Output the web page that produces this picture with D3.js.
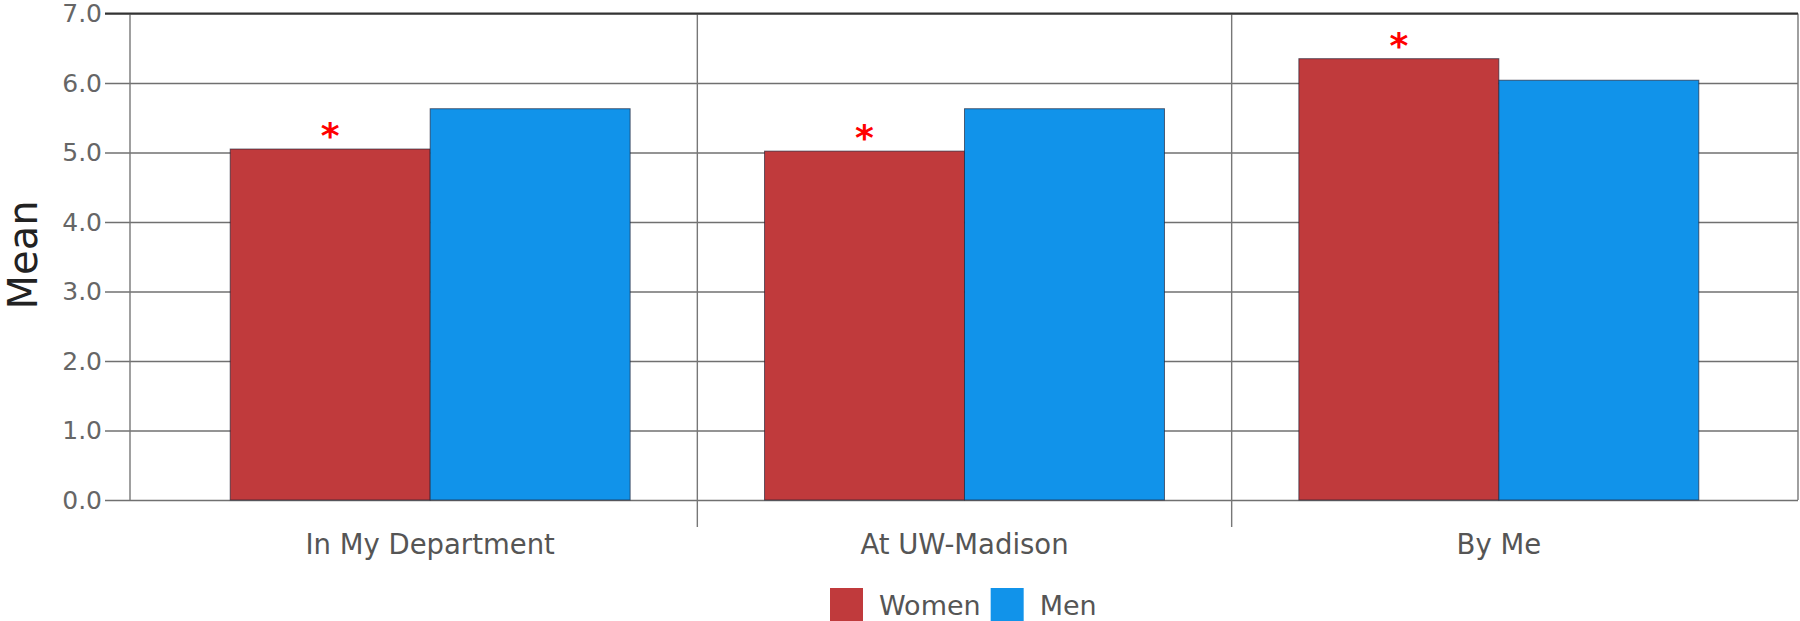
<!DOCTYPE html>
<html>
<head>
<meta charset="utf-8">
<script src="https://cdn.jsdelivr.net/npm/d3@7"></script>
<style>
  html, body { margin: 0; padding: 0; background: #fff; }
  svg { display: block; }
</style>
</head>
<body>
<svg id="chart" width="1800" height="621"></svg>
<script>
// ---- data ----
const categories = ["In My Department", "At UW-Madison", "By Me"];
const seriesNames = ["Women", "Men"];
const womenValues = [5.05, 5.02, 6.35];
const menValues = [5.63, 5.63, 6.04];
const womenSignificant = [true, true, true];
const yTickValues = [0, 1, 2, 3, 4, 5, 6, 7];
const yAxisTitle = "Mean";

// ---- layout ----
const plot = { left: 130, right: 1798, top: 13.5, bottom: 500 };
const bandRange = [163, 1766];
const colors = { Women: "#c03a3c", Men: "#1193ea" };
const FONT = "'DejaVu Sans', Verdana, sans-serif";

const svg = d3.select("#chart");

const y = d3.scaleLinear().domain([0, 7]).range([plot.bottom, plot.top]);
const x0 = d3.scaleBand().domain(categories).range(bandRange).padding(0);
const x1 = d3.scaleBand().domain(seriesNames).range([0, x0.bandwidth()])
  .paddingInner(0).paddingOuter(0.336);

const rows = categories.map((c, i) => ({
  category: c,
  values: [
    { series: "Women", value: womenValues[i], sig: womenSignificant[i] },
    { series: "Men", value: menValues[i], sig: false }
  ]
}));

// gridlines + left ticks + labels (one axis anchored on the right edge)
const gridAxis = d3.axisLeft(y)
  .tickValues(yTickValues)
  .tickFormat(d3.format(".1f"))
  .tickSize(plot.right - 105)
  .tickPadding(3);

const gy = svg.append("g")
  .attr("transform", `translate(${plot.right},0)`)
  .call(gridAxis);
gy.select(".domain").remove();
gy.selectAll(".tick line").attr("stroke", "#707070").attr("stroke-width", 1.4);
gy.selectAll(".tick text")
  .attr("fill", "#666")
  .style("font-family", FONT)
  .style("font-size", "25px");

// category separators
svg.append("g").selectAll("line")
  .data(categories.slice(1))
  .join("line")
  .attr("x1", d => x0(d)).attr("x2", d => x0(d))
  .attr("y1", plot.top).attr("y2", 527)
  .attr("stroke", "#777").attr("stroke-width", 1.4);

// frame
svg.append("line").attr("x1", plot.left).attr("x2", plot.left)
  .attr("y1", plot.top).attr("y2", plot.bottom)
  .attr("stroke", "#777").attr("stroke-width", 1.4);
svg.append("line").attr("x1", plot.right).attr("x2", plot.right)
  .attr("y1", plot.top).attr("y2", plot.bottom)
  .attr("stroke", "#777").attr("stroke-width", 1.4);
svg.append("line").attr("x1", 105).attr("x2", plot.right)
  .attr("y1", plot.top).attr("y2", plot.top)
  .attr("stroke", "#333").attr("stroke-width", 2);

// bars
const groups = svg.append("g").selectAll("g")
  .data(rows)
  .join("g")
  .attr("transform", d => `translate(${x0(d.category)},0)`);

groups.selectAll("rect")
  .data(d => d.values)
  .join("rect")
  .attr("x", d => x1(d.series))
  .attr("y", d => y(d.value))
  .attr("width", x1.bandwidth())
  .attr("height", d => y(0) - y(d.value))
  .attr("fill", d => colors[d.series])
  .attr("stroke", "rgba(30,30,50,0.65)")
  .attr("stroke-width", 1);

// significance asterisks
groups.selectAll("text.sig")
  .data(d => d.values.filter(v => v.sig))
  .join("text")
  .attr("class", "sig")
  .attr("x", d => x1(d.series) + x1.bandwidth() / 2)
  .attr("y", d => y(d.value) - 1)
  .attr("text-anchor", "middle")
  .attr("fill", "#ff0000")
  .style("font-family", FONT)
  .style("font-weight", "bold")
  .style("font-size", "36px")
  .text("*");

// x axis labels
const gx = svg.append("g")
  .attr("transform", `translate(0,${plot.bottom})`)
  .call(d3.axisBottom(x0).tickSize(0).tickPadding(34));
gx.select(".domain").remove();
gx.selectAll(".tick text")
  .attr("fill", "#555")
  .style("font-family", FONT)
  .style("font-size", "27.5px");

// y axis title
svg.append("text")
  .attr("transform", `translate(37,255) rotate(-90)`)
  .attr("text-anchor", "middle")
  .attr("fill", "#222")
  .style("font-family", FONT)
  .style("font-size", "40px")
  .text(yAxisTitle);

// legend
const legend = svg.append("g").attr("transform", "translate(830,588)");
let lx = 0;
seriesNames.forEach(name => {
  const item = legend.append("g").attr("transform", `translate(${lx},0)`);
  item.append("rect").attr("width", 33).attr("height", 33).attr("fill", colors[name]);
  const t = item.append("text")
    .attr("x", 49).attr("y", 27)
    .attr("fill", "#555")
    .style("font-family", FONT)
    .style("font-size", "27px")
    .text(name);
  lx += 49 + t.node().getComputedTextLength() + 10;
});
</script>
</body>
</html>
